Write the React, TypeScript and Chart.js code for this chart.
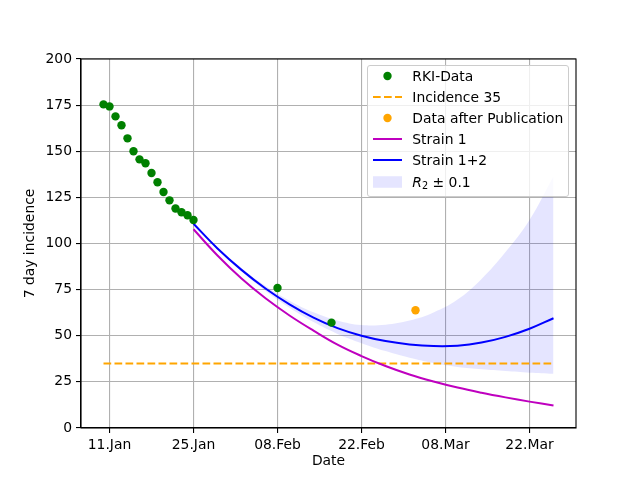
import React, { useEffect, useRef } from "react";
import { Chart, registerables } from "chart.js";

Chart.register(...registerables);

// ---- data (x = day of year 2021, Jan 1 = 1) ----
const rkiDays = [10, 11, 12, 13, 14, 15, 16, 17, 18, 19, 20, 21, 22, 23, 24, 25, 39, 48];
const rkiValues = [175.4, 174.3, 168.9, 164.1, 157.0, 150.0, 145.6, 143.5, 138.2, 133.2, 127.9, 123.4, 119.0, 116.9, 115.3, 112.7, 75.9, 57.1];

const afterPubDays = [62];
const afterPubValues = [63.8];

const incidenceDays = [10, 85];
const incidenceValues = [35, 35];

const modelDays = [25, 29, 33, 37, 41, 45, 49, 53, 57, 61, 65, 69, 73, 77, 81, 85];
const strain1Values = [107.7, 93.5, 81, 70.3, 61, 52.8, 45.2, 39, 33.6, 29, 25.2, 21.9, 19.1, 16.6, 14.3, 12.2];
const strain12Values = [110.7, 97.3, 85.7, 75.6, 67.0, 59.8, 54.1, 50.0, 47.1, 45.3, 44.4, 44.6, 46.3, 49.4, 53.8, 59.5];
const bandUpperValues = [111.0, 97.8, 86.6, 77.0, 69.0, 62.7, 58.3, 55.8, 56.0, 58.2, 62.6, 69.6, 80.8, 95.4, 112.8, 136.5];
const bandLowerValues = [110.4, 96.7, 84.8, 74.3, 65.2, 57.4, 51.0, 46.0, 41.7, 38.1, 35.2, 33.1, 31.8, 30.9, 30.0, 29.4];

const xTickDays = [11, 25, 39, 53, 67, 81];
const xTickLabels = ["11.Jan", "25.Jan", "08.Feb", "22.Feb", "08.Mar", "22.Mar"];

const legendLabels = ["RKI-Data", "Incidence 35", "Data after Publication", "Strain 1", "Strain 1+2", "R2 ± 0.1"];

const FONT_FAMILY = "'DejaVu Sans', 'Liberation Sans', sans-serif";
const FONT_SIZE = 13.9;
const GREEN = "#008000";
const ORANGE = "#ffa500";
const MAGENTA = "#bf00bf";
const BLUE = "#0000ff";
const BAND = "rgba(0,0,255,0.1)";
const TENSION = 0.4;

function toPoints(xs: number[], ys: number[]) {
  return xs.map((x, i) => ({ x, y: ys[i] }));
}

const framePlugin = {
  id: "frame",
  afterDraw(chart: any) {
    const { ctx, chartArea: a } = chart;
    ctx.save();
    ctx.strokeStyle = "#000";
    ctx.lineWidth = 1.1;
    ctx.strokeRect(a.left, a.top, a.right - a.left, a.bottom - a.top);
    ctx.restore();
  },
};

function Handle({ kind, color }: { kind: string; color: string }) {
  return (
    <svg width={29} height={20} style={{ position: "absolute", left: 4.4, top: 0 }}>
      {kind === "dot" && <circle cx={14.5} cy={10} r={4.2} fill={color} />}
      {kind === "line" && <line x1={0} x2={29} y1={10} y2={10} stroke={color} strokeWidth={2} />}
      {kind === "dash" && (
        <line x1={0} x2={29} y1={10} y2={10} stroke={color} strokeWidth={2} strokeDasharray="7.7 3.3" />
      )}
      {kind === "patch" && <rect x={0} y={4.2} width={29} height={11.6} fill={color} />}
    </svg>
  );
}

export default function App() {
  const canvasRef = useRef<HTMLCanvasElement | null>(null);

  useEffect(() => {
    if (!canvasRef.current) return;
    const font = { family: FONT_FAMILY, size: FONT_SIZE, weight: "normal" as const };
    const grid = {
      color: "#b0b0b0",
      lineWidth: 1.1,
      tickLength: 5,
      tickColor: "#000",
      tickWidth: 1.1,
    };
    const chart = new Chart(canvasRef.current, {
      type: "scatter",
      data: {
        datasets: [
          {
            label: "band-lower",
            data: toPoints(modelDays, bandLowerValues),
            showLine: true,
            borderColor: "transparent",
            backgroundColor: "transparent",
            borderWidth: 0,
            pointRadius: 0,
            fill: false,
            tension: TENSION,
            order: 10,
          },
          {
            label: legendLabels[5],
            data: toPoints(modelDays, bandUpperValues),
            showLine: true,
            borderColor: "transparent",
            backgroundColor: BAND,
            borderWidth: 0,
            pointRadius: 0,
            fill: 0,
            tension: TENSION,
            order: 9,
          },
          {
            label: legendLabels[1],
            data: toPoints(incidenceDays, incidenceValues),
            showLine: true,
            borderColor: ORANGE,
            borderWidth: 2,
            borderDash: [7.7, 3.3],
            pointRadius: 0,
            order: 5,
          },
          {
            label: legendLabels[3],
            data: toPoints(modelDays, strain1Values),
            showLine: true,
            borderColor: MAGENTA,
            borderWidth: 2,
            pointRadius: 0,
            tension: TENSION,
            order: 4,
          },
          {
            label: legendLabels[4],
            data: toPoints(modelDays, strain12Values),
            showLine: true,
            borderColor: BLUE,
            borderWidth: 2,
            pointRadius: 0,
            tension: TENSION,
            order: 3,
          },
          {
            label: legendLabels[0],
            data: toPoints(rkiDays, rkiValues),
            showLine: false,
            backgroundColor: GREEN,
            borderColor: GREEN,
            borderWidth: 0,
            pointRadius: 4.2,
            order: 1,
          },
          {
            label: legendLabels[2],
            data: toPoints(afterPubDays, afterPubValues),
            showLine: false,
            backgroundColor: ORANGE,
            borderColor: ORANGE,
            borderWidth: 0,
            pointRadius: 4.2,
            order: 0,
          },
        ],
      },
      options: {
        animation: false,
        responsive: true,
        maintainAspectRatio: false,
        layout: { padding: { top: 59, right: 64, bottom: 0, left: 0 } },
        plugins: {
          legend: { display: false },
          tooltip: { enabled: false },
        },
        scales: {
          x: {
            type: "linear",
            min: 6.25,
            max: 88.75,
            afterBuildTicks: (scale: any) => {
              scale.ticks = xTickDays.map((v) => ({ value: v }));
            },
            afterFit: (scale: any) => {
              scale.height = 52;
            },
            ticks: {
              autoSkip: false,
              maxRotation: 0,
              padding: 4,
              color: "#000",
              font,
              callback: (v: any) => {
                const i = xTickDays.indexOf(Number(v));
                return i >= 0 ? xTickLabels[i] : "";
              },
            },
            grid,
            border: { color: "#000", width: 1.1 },
            title: {
              display: true,
              text: "Date",
              color: "#000",
              font,
              padding: { top: 0, bottom: 10.7 },
            },
          },
          y: {
            min: 0,
            max: 200,
            afterFit: (scale: any) => {
              scale.width = 81;
            },
            ticks: { stepSize: 25, padding: 4, color: "#000", font },
            grid,
            border: { color: "#000", width: 1.1 },
            title: {
              display: true,
              text: "7 day incidence",
              color: "#000",
              font,
              padding: { top: 21.7, bottom: 0 },
            },
          },
        },
      } as any,
      plugins: [framePlugin],
    });
    return () => chart.destroy();
  }, []);

  const items = [
    { kind: "dot", color: GREEN },
    { kind: "dash", color: ORANGE },
    { kind: "dot", color: ORANGE },
    { kind: "line", color: MAGENTA },
    { kind: "line", color: BLUE },
    { kind: "patch", color: BAND },
  ];

  return (
    <div style={{ position: "absolute", left: 0, top: 0, width: 640, height: 480, background: "#fff" }}>
      <canvas ref={canvasRef} />
      <div
        style={{
          position: "absolute",
          left: 367.3,
          top: 65,
          width: 202,
          height: 131.7,
          boxSizing: "border-box",
          border: "1px solid #cccccc",
          borderRadius: 3,
          background: "rgba(255,255,255,0.8)",
          fontFamily: FONT_FAMILY,
          fontSize: FONT_SIZE,
          color: "#000",
        }}
      >
        {items.map((it, i) => (
          <div key={i} style={{ position: "absolute", left: 0, top: i * 21.1, width: "100%", height: 20 }}>
            <Handle kind={it.kind} color={it.color} />
            <div style={{ position: "absolute", left: 44, top: 0, height: 20, lineHeight: "20px", whiteSpace: "nowrap" }}>
              {i === 5 ? (
                <span>
                  <span style={{ fontStyle: "italic" }}>R</span>
                  <sub style={{ fontSize: "70%", verticalAlign: "-0.25em", lineHeight: 0 }}>2</sub>
                  {" ± 0.1"}
                </span>
              ) : (
                legendLabels[i]
              )}
            </div>
          </div>
        ))}
      </div>
    </div>
  );
}
